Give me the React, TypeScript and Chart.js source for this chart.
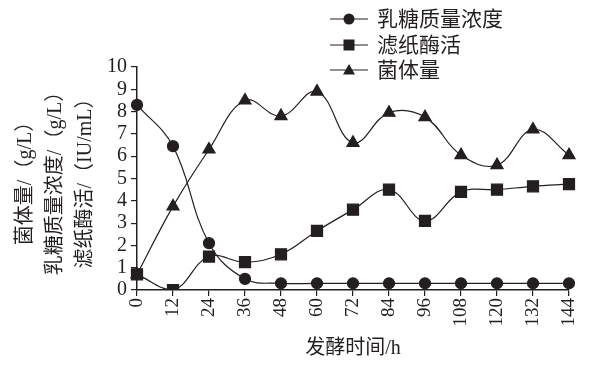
import React, { useEffect, useRef } from "react";
import { Chart, registerables } from "chart.js";

Chart.register(...registerables);

const hours = ["0", "12", "24", "36", "48", "60", "72", "84", "96", "108", "120", "132", "144"];
const lactose = [8.3, 6.45, 2.1, 0.5, 0.3, 0.3, 0.3, 0.3, 0.3, 0.3, 0.3, 0.3, 0.3];
const fpase = [0.7, 0, 1.5, 1.25, 1.6, 2.65, 3.6, 4.5, 3.1, 4.4, 4.5, 4.65, 4.75];
const biomass = [0.7, 3.75, 6.3, 8.5, 7.8, 8.9, 6.6, 7.95, 7.75, 6.05, 5.6, 7.2, 6.05];
const seriesNames = ["乳糖质量浓度", "滤纸酶活", "菌体量"];
const yTitleLines = ["菌体量/（g/L）", "乳糖质量浓度/（g/L）", "滤纸酶活/（IU/mL）"];
const xTitle = "发酵时间/h";

const INK = "#231f20";
const FONT = "'Liberation Serif', 'Noto Sans CJK SC', serif";

function drawMarker(ctx: CanvasRenderingContext2D, style: string, x: number, y: number) {
  ctx.beginPath();
  if (style === "circle") {
    ctx.arc(x, y, 5.5, 0, Math.PI * 2);
  } else if (style === "rect") {
    ctx.rect(x - 5.5, y - 5.5, 11, 11);
  } else {
    ctx.moveTo(x, y - 6);
    ctx.lineTo(x + 6, y + 4.5);
    ctx.lineTo(x - 6, y + 4.5);
    ctx.closePath();
  }
  ctx.fill();
}

const customPlugin = {
  id: "customDecor",
  afterDraw(chart: any) {
    const ctx = chart.ctx as CanvasRenderingContext2D;
    ctx.save();
    const styles = ["circle", "rect", "triangle"];
    const rowsY = [19, 45, 70];
    ctx.strokeStyle = INK;
    ctx.fillStyle = INK;
    ctx.lineWidth = 1.2;
    for (let i = 0; i < 3; i++) {
      const y = rowsY[i];
      ctx.beginPath();
      ctx.moveTo(330, y);
      ctx.lineTo(368, y);
      ctx.stroke();
      drawMarker(ctx, styles[i], 349, y);
      ctx.font = `21px ${FONT}`;
      ctx.textAlign = "left";
      ctx.textBaseline = "middle";
      ctx.fillText(seriesNames[i], 377, y + 1);
    }
    const cy = (chart.chartArea.top + chart.chartArea.bottom) / 2;
    const xs = [26, 56, 86];
    ctx.font = `20px ${FONT}`;
    ctx.textAlign = "center";
    ctx.textBaseline = "middle";
    for (let i = 0; i < 3; i++) {
      ctx.save();
      ctx.translate(xs[i], cy);
      ctx.rotate(-Math.PI / 2);
      ctx.fillText(yTitleLines[i], 0, 0);
      ctx.restore();
    }
    ctx.restore();
  },
};

export default function App() {
  const ref = useRef<HTMLCanvasElement | null>(null);
  useEffect(() => {
    if (!ref.current) return;
    const common = {
      borderColor: INK,
      backgroundColor: INK,
      pointBackgroundColor: INK,
      pointBorderColor: INK,
      borderWidth: 1.2,
      tension: 0.4,
      fill: false,
    };
    const chart = new Chart(ref.current, {
      type: "line",
      data: {
        labels: hours,
        datasets: [
          { ...common, label: seriesNames[2], data: biomass, pointStyle: "triangle", pointRadius: 7 },
          { ...common, label: seriesNames[1], data: fpase, pointStyle: "rect", pointRadius: 7.8 },
          { ...common, label: seriesNames[0], data: lactose, pointStyle: "circle", pointRadius: 5.5 },
        ],
      },
      options: {
        animation: false,
        responsive: false,
        maintainAspectRatio: false,
        layout: { padding: { top: 67, right: 34, left: 0, bottom: 0 } },
        plugins: { legend: { display: false }, tooltip: { enabled: false } },
        scales: {
          x: {
            offset: false,
            grid: { drawOnChartArea: false, drawTicks: true, tickLength: 6, color: INK, lineWidth: 1.2 },
            border: { color: INK, width: 1.5 },
            ticks: { color: INK, autoSkip: false, font: { family: FONT, size: 19 }, maxRotation: 90, minRotation: 90, padding: 2 },
            title: { display: true, text: xTitle, color: INK, font: { family: FONT, size: 20 }, padding: { top: 0, bottom: 4 } },
            afterFit: (s: any) => { s.height = 75; },
          },
          y: {
            min: 0,
            max: 10,
            grid: { drawOnChartArea: false, drawTicks: true, tickLength: 6, color: INK, lineWidth: 1.2 },
            border: { color: INK, width: 1.5 },
            ticks: { stepSize: 1, autoSkip: false, color: INK, font: { family: FONT, size: 20 }, padding: 4 },
            afterFit: (s: any) => { s.width = 137; },
          },
        },
      },
      plugins: [customPlugin],
    } as any);
    return () => chart.destroy();
  }, []);
  return (
    <div style={{ position: "fixed", left: 0, top: 0, width: 603, height: 365, background: "#fff" }}>
      <canvas ref={ref} width={603} height={365} style={{ width: 603, height: 365 }} />
    </div>
  );
}
